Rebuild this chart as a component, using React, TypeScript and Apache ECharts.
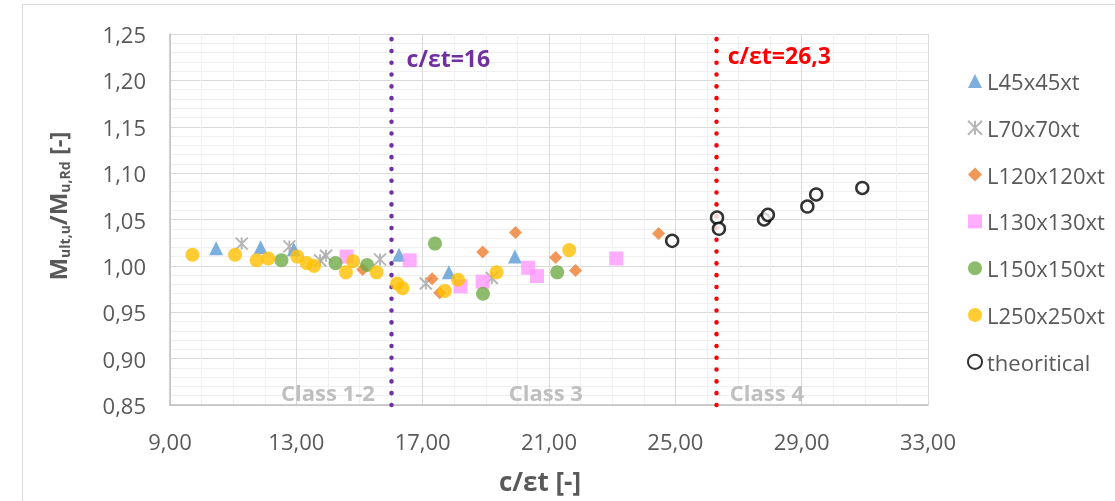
import React, { useEffect, useRef } from "react";
import * as echarts from "echarts";

const FONT = "'Open Sans', 'Noto Sans', sans-serif";
const TEXT = "#595959";

const seriesNames = ["L45x45xt", "L70x70xt", "L120x120xt", "L130x130xt", "L150x150xt", "L250x250xt", "theoritical"];

const l45X = [10.46, 11.87, 12.92, 16.25, 17.83, 19.92];
const l45Y = [1.019, 1.020, 1.018, 1.012, 0.993, 1.010];

const l70X = [11.27, 12.78, 13.75, 13.94, 15.65, 17.10, 19.19];
const l70Y = [1.024, 1.021, 1.006, 1.011, 1.007, 0.981, 0.987];

const l120X = [15.10, 17.30, 17.54, 18.90, 19.94, 21.21, 21.84, 24.47];
const l120Y = [0.996, 0.986, 0.971, 1.015, 1.036, 1.009, 0.995, 1.035];

const l130X = [14.59, 16.59, 18.20, 18.90, 20.34, 20.62, 23.13];
const l130Y = [1.010, 1.006, 0.978, 0.983, 0.998, 0.989, 1.008];

const l150X = [12.53, 14.24, 15.24, 17.39, 18.91, 21.26];
const l150Y = [1.006, 1.003, 1.001, 1.024, 0.970, 0.993];

const l250X = [9.71, 11.06, 11.74, 12.11, 13.03, 13.33, 13.56, 14.57, 14.80, 15.54, 16.19, 16.36, 17.70, 18.12, 19.34, 21.64];
const l250Y = [1.012, 1.012, 1.006, 1.008, 1.010, 1.003, 1.000, 0.993, 1.005, 0.993, 0.981, 0.976, 0.973, 0.985, 0.993, 1.017];

const theoX = [24.90, 26.32, 26.38, 27.81, 27.93, 29.18, 29.46, 30.92];
const theoY = [1.027, 1.052, 1.040, 1.050, 1.055, 1.064, 1.077, 1.084];

const classLimits = [16, 26.3];
const limitLabels = ["c/εt=16", "c/εt=26,3"];
const classNames = ["Class 1-2", "Class 3", "Class 4"];

const xMin = 9, xMax = 33, xMajor = 4;
const yMin = 0.85, yMax = 1.25, yStep = 0.05;

const zip = (xs: number[], ys: number[]) => xs.map((x, i) => [x, ys[i]]);
const fmt = (v: number) => v.toFixed(2).replace(".", ",");

export default function App() {
  const ref = useRef<HTMLDivElement>(null);
  useEffect(() => {
    if (!ref.current) return;
    const chart = echarts.init(ref.current, null, { renderer: "svg" });
    const base = { type: "scatter" as const, animation: false };
    const option: any = {
      animation: false,
      textStyle: { fontFamily: FONT },
      grid: { left: 170, right: 187, top: 34, bottom: 96, containLabel: false },
      legend: {
        orient: "vertical",
        left: 962,
        top: 65,
        itemWidth: 14,
        itemHeight: 14,
        itemGap: 24.8,
        textStyle: { fontSize: 22, color: TEXT, fontFamily: FONT, lineHeight: 22 },
        data: seriesNames,
      },
      xAxis: {
        type: "value",
        min: xMin,
        max: xMax,
        interval: 1,
        axisLine: { show: true, onZero: false, lineStyle: { color: "#bfbfbf", width: 1.5 } },
        axisTick: { show: false },
        axisLabel: {
          fontSize: 22,
          color: TEXT,
          fontFamily: FONT,
          margin: 25,
          formatter: (v: number) => ((Math.round(v) - xMin) % xMajor === 0 ? fmt(v) : ""),
        },
        splitLine: { show: true, lineStyle: { color: ["#d9d9d9", "#f0f0f0", "#f0f0f0", "#f0f0f0"], width: 1 } },
      },
      yAxis: {
        type: "value",
        min: yMin,
        max: yMax,
        interval: yStep,
        axisLine: { show: true, onZero: false, lineStyle: { color: "#bfbfbf", width: 1.5 } },
        axisTick: { show: false },
        axisLabel: { fontSize: 22, color: TEXT, fontFamily: FONT, margin: 24, formatter: (v: number) => fmt(v) },
        splitLine: { show: true, lineStyle: { color: "#d9d9d9", width: 1 } },
        minorTick: { show: false, splitNumber: 5 },
        minorSplitLine: { show: true, lineStyle: { color: "#f0f0f0", width: 1 } },
      },
      series: [
        {
          ...base,
          name: seriesNames[0],
          data: zip(l45X, l45Y),
          symbol: "triangle",
          symbolSize: 14,
          itemStyle: { color: "#5B9BD5" },
          markLine: {
            silent: true,
            z: 1,
            symbol: "none",
            animation: false,
            label: { show: false },
            data: [
              { xAxis: classLimits[0], lineStyle: { color: "#7030A0", width: 4.5, type: [0.1, 11.7], cap: "round" } },
              { xAxis: classLimits[1], lineStyle: { color: "#FF0000", width: 4.5, type: [0.1, 11.7], cap: "round" } },
            ],
          },
        },
        {
          ...base,
          name: seriesNames[1],
          data: zip(l70X, l70Y),
          symbol: "path://M0 0L10 10M10 0L0 10M5 0L5 10",
          symbolSize: 12,
          itemStyle: { color: "#A5A5A5", borderColor: "#A5A5A5", borderWidth: 2 },
        },
        {
          ...base,
          name: seriesNames[2],
          data: zip(l120X, l120Y),
          symbol: "diamond",
          symbolSize: 13,
          itemStyle: { color: "#ED7D31" },
        },
        {
          ...base,
          name: seriesNames[3],
          data: zip(l130X, l130Y),
          symbol: "rect",
          symbolSize: 14,
          itemStyle: { color: "#FF99FF" },
        },
        {
          ...base,
          name: seriesNames[4],
          data: zip(l150X, l150Y),
          symbol: "circle",
          symbolSize: 14,
          itemStyle: { color: "#70AD47" },
        },
        {
          ...base,
          name: seriesNames[5],
          data: zip(l250X, l250Y),
          symbol: "circle",
          symbolSize: 14,
          itemStyle: { color: "#FFC000" },
        },
        {
          ...base,
          name: seriesNames[6],
          data: zip(theoX, theoY),
          symbol: "circle",
          symbolSize: 12,
          itemStyle: { color: "#ffffff", borderColor: "#000000", borderWidth: 2.5 },
        },
      ],
    };
    chart.setOption(option);

    const px = (x: number, y: number) => chart.convertToPixel({ gridIndex: 0 }, [x, y]) as number[];
    const p16 = px(16.49, 1.224);
    const p26 = px(26.66, 1.227);
    const classPts = [px(14.0, 0.864), px(20.9, 0.864), px(27.9, 0.864)];

    chart.setOption({
      graphic: [
        {
          type: "rect",
          z: -10,
          shape: { x: 22.5, y: 4.5, width: 1200, height: 600 },
          style: { fill: "none", stroke: "#d9d9d9", lineWidth: 1 },
          silent: true,
        },
        {
          type: "text",
          x: p16[0],
          y: p16[1],
          style: {
            text: limitLabels[0],
            fill: "#7030A0",
            font: `bold 23px ${FONT}`,
            align: "left",
            verticalAlign: "middle",
          },
        },
        {
          type: "text",
          x: p26[0],
          y: p26[1],
          style: {
            text: limitLabels[1],
            fill: "#FF0000",
            font: `bold 23px ${FONT}`,
            align: "left",
            verticalAlign: "middle",
          },
        },
        ...classPts.map((p, i) => ({
          type: "text",
          x: p[0],
          y: p[1],
          style: {
            text: classNames[i],
            fill: "#BFBFBF",
            font: `bold 22px ${FONT}`,
            align: "center",
            verticalAlign: "middle",
          },
        })),
        {
          type: "text",
          x: 540,
          y: 481,
          style: {
            text: "c/εt [-]",
            fill: TEXT,
            font: `bold 26px ${FONT}`,
            align: "center",
            verticalAlign: "middle",
          },
        },
        {
          type: "text",
          x: 57,
          y: 206,
          rotation: Math.PI / 2,
          style: {
            text: "{b|M}{s|ult,u}{b|/M}{s|u,Rd}{b| [-]}",
            align: "center",
            verticalAlign: "middle",
            rich: {
              b: { fontSize: 24, fontWeight: "bold", fontFamily: FONT, fill: TEXT, lineHeight: 28, verticalAlign: "middle" },
              s: { fontSize: 14, fontWeight: "bold", fontFamily: FONT, fill: TEXT, lineHeight: 13, verticalAlign: "bottom" },
            },
          },
        },
      ],
    });

    return () => chart.dispose();
  }, []);
  return <div ref={ref} style={{ position: "fixed", left: 0, top: 0, width: 1115, height: 501 }} />;
}
